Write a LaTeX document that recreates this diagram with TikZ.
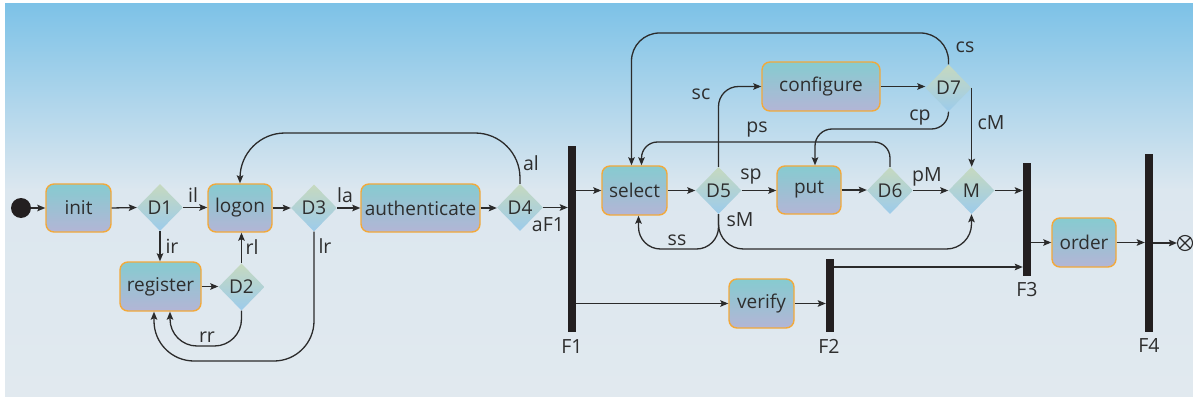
\documentclass[tikz,border=0pt]{standalone}
\usepackage{fontspec}
\setmainfont{Open Sans}
\usetikzlibrary{shapes.geometric,arrows.meta,calc}
\definecolor{bgtop}{HTML}{7DC2E7}
\definecolor{bgmid}{HTML}{DCE7EF}
\definecolor{bgbot}{HTML}{E1E9EF}
\definecolor{boxtop}{HTML}{86CBD0}
\definecolor{boxbot}{HTML}{B3B5D6}
\definecolor{boxline}{HTML}{F2A93B}
\definecolor{diatop}{HTML}{C6D9BF}
\definecolor{diabot}{HTML}{9CCBEB}
\definecolor{txt}{HTML}{2E2E2E}
\definecolor{ln}{HTML}{2B2B2B}
\definecolor{barc}{HTML}{231F20}
\newcommand\ndfont{\fontsize{19}{21}\selectfont}
\newcommand\lbfont{\fontsize{19.5}{21}\selectfont}
\tikzset{
  box/.style={rectangle, rounded corners=8, draw=boxline, line width=1.4, top color=boxtop, bottom color=boxbot, minimum height=48, minimum width=64, inner sep=2, font=\ndfont, text=txt},
  dia/.style={diamond, top color=diatop, bottom color=diabot, minimum width=46, minimum height=47, inner sep=0, font=\ndfont, text=txt},
  bar/.style={rectangle, fill=barc, minimum width=8, inner sep=0},
  lab/.style={font=\lbfont, text=txt, anchor=base, inner sep=0},
  arr/.style={draw=ln, line width=1.3, -{Stealth[length=8,width=6.5,inset=1.5]}},
  conn/.style={draw=ln, line width=1.3}
}
\begin{document}
\begin{tikzpicture}[x=1pt,y=-1pt]
\useasboundingbox (0,0) rectangle (1193,398);
\shade[top color=bgtop, bottom color=bgmid] (5,4) rectangle (1193,190);
\shade[top color=bgmid, bottom color=bgbot] (5,190) rectangle (1193,396);

% nodes
\node[circle, fill=barc, minimum size=20, inner sep=0] (start) at (21,208) {};
\node[box, minimum width=65] (init) at (78.5,208) {init};
\node[dia] (D1) at (160,207.5) {D1};
\node[box] (logon) at (240,208) {logon};
\node[dia] (D3) at (314,208) {D3};
\node[box, minimum width=119] (authenticate) at (420.5,208) {authenticate};
\node[dia] (D4) at (520,207.5) {D4};
\node[bar, minimum height=186] (F1) at (572,239) {};
\node[box, minimum width=65, minimum height=49] (select) at (634.5,190.5) {select};
\node[dia] (D5) at (718.5,190.5) {D5};
\node[box] (put) at (809,190) {put};
\node[dia] (D6) at (890,190.5) {D6};
\node[dia] (M) at (971.5,190.5) {M};
\node[bar, minimum height=113] (F3) at (1027,219.5) {};
\node[box, minimum height=49] (order) at (1084,242.5) {order};
\node[bar, minimum height=178] (F4) at (1149,243) {};
\node[circle, draw=ln, line width=1.1, minimum size=15, inner sep=0] (end) at (1185,243) {};
\draw[ln, line width=1.1] (end.north east) -- (end.south west) (end.north west) -- (end.south east);
\node[box, minimum width=118, minimum height=49] (configure) at (821,86.5) {configure};
\node[dia] (D7) at (948.5,88) {D7};
\node[box, minimum width=81, minimum height=49] (register) at (160.5,286.5) {register};
\node[dia] (D2) at (241.5,287) {D2};
\node[box, minimum width=65, minimum height=49] (verify) at (761.5,303.5) {verify};
\node[bar, minimum height=73] (F2) at (830,295.5) {};

% helper coordinates
\coordinate (sIn1) at ([xshift=-3]select.north);
\coordinate (sIn2) at ([xshift=7]select.north);
\coordinate (sOut) at ([xshift=4]select.south);
\coordinate (pIn) at ([xshift=6]put.north);
\coordinate (rIn1) at ([xshift=-6.5]register.south);
\coordinate (rIn2) at ([xshift=9.5]register.south);

% straight connectors
\draw[arr] (start.east) -- (init.west);
\draw[arr] (init.east) -- (D1.west);
\draw[arr] (D1.east) -- (D1.east -| logon.west);
\draw[arr] (D1.south) -- (D1.south |- register.north);
\draw[arr] (register.east) -- (register.east -| D2.west);
\draw[arr] (D2.north) -- (D2.north |- logon.south);
\draw[arr] (logon.east) -- (logon.east -| D3.west);
\draw[arr] (D3.east) -- (D3.east -| authenticate.west);
\draw[arr] (authenticate.east) -- (authenticate.east -| D4.west);
\draw[arr] (D4.east) -- (D4.east -| F1.west);
\draw[arr] (F1.east |- select.west) -- (select.west);
\draw[arr] (F1.east |- verify.west) -- (verify.west);
\draw[arr] (select.east) -- (select.east -| D5.west);
\draw[arr] (D5.east) -- (D5.east -| put.west);
\draw[arr] (put.east) -- (put.east -| D6.west);
\draw[arr] (D6.east) -- (D6.east -| M.west);
\draw[arr] (configure.east) -- (configure.east -| D7.west);
\draw[arr] (D7.east) -- (D7.east |- M.north);
\draw[arr] (M.east) -- (M.east -| F3.west);
\draw[arr] (verify.east) -- (verify.east -| F2.west);
\draw[arr] (F2.east |- 0,267) -- (F3.west |- 0,267);
\draw[arr] (F3.east |- order.west) -- (order.west);
\draw[arr] (order.east) -- (order.east -| F4.west);
\draw[arr] (F4.east |- end.west) -- (end.west);

% curved connectors
\draw[arr, rounded corners=45] (D4.north) -- (D4.north |- 0,133) -- (logon.north |- 0,133) -- (logon.north);
\draw[arr, rounded corners=28] (D7.north) -- (D7.north |- 0,33) -- (sIn1 |- 0,33) -- (sIn1);
\draw[arr, rounded corners=16] (D6.north) -- (D6.north |- 0,142) -- (sIn2 |- 0,142) -- (sIn2);
\draw[arr, rounded corners=17] (D7.south) -- (D7.south |- 0,129) -- (pIn |- 0,129) -- (pIn);
\draw[arr, rounded corners=20] (D5.north) -- (D5.north |- configure.west) -- (configure.west);
\draw[arr, rounded corners=22] (D5.south) -- (D5.south |- 0,249) -- (sOut |- 0,249) -- (sOut);
\draw[arr, rounded corners=25] (D5.south) -- (D5.south |- 0,249) -- (M.south |- 0,249) -- (M.south);
\draw[arr, rounded corners=27] (D2.south) -- (D2.south |- 0,346) -- (rIn2 |- 0,346) -- (rIn2);
\draw[arr, rounded corners=40] (D3.south) -- (D3.south |- 0,361) -- (rIn1 |- 0,361) -- (rIn1);

% labels
\node[lab] (lil) at (193,202) {il};
\node[lab] (lir) at (172,253) {ir};
\node[lab] (lrl) at (252,254) {rl};
\node[lab] (lrr) at (207,342) {rr};
\node[lab] (llr) at (325,253) {lr};
\node[lab] (lla) at (345,202) {la};
\node[lab] (lal) at (531,171) {al};
\node[lab] (laF) at (548,231) {aF1};
\node[lab] (lsc) at (701,100) {sc};
\node[lab] (lps) at (757,133) {ps};
\node[lab] (lsp) at (751,180) {sp};
\node[lab] (lpM) at (927,182) {pM};
\node[lab] (lcs) at (965,53) {cs};
\node[lab] (lcp) at (920,121) {cp};
\node[lab] (lcM) at (991,130) {cM};
\node[lab] (lss) at (677,245) {ss};
\node[lab] (lsM) at (740,226) {sM};
\node[lab] (lF1) at (572,353) {F1};
\node[lab] (lF2) at (829,353) {F2};
\node[lab] (lF3) at (1027,296) {F3};
\node[lab] (lF4) at (1149,352) {F4};
\end{tikzpicture}
\end{document}
